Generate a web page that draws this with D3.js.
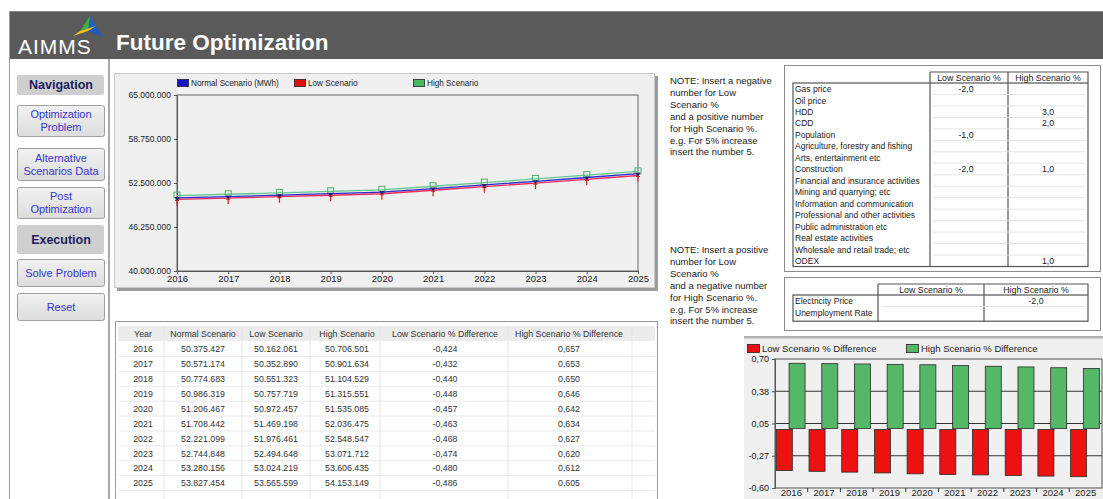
<!DOCTYPE html>
<html>
<head>
<meta charset="utf-8">
<script src="https://cdn.jsdelivr.net/npm/d3@7"></script>
<style>
  html, body { margin: 0; padding: 0; background: #ffffff; }
  svg { display: block; font-family: Arial, "Liberation Sans", sans-serif; }
</style>
</head>
<body>
<script>
// ---- data ----
const years = [2016, 2017, 2018, 2019, 2020, 2021, 2022, 2023, 2024, 2025];
const normalScenario = [50375427, 50571174, 50774683, 50986319, 51206467, 51708442, 52221099, 52744848, 53280156, 53827454];
const lowScenario    = [50162061, 50352890, 50551323, 50757719, 50972457, 51469198, 51976461, 52494648, 53024219, 53565599];
const highScenario   = [50706501, 50901634, 51104529, 51315551, 51535085, 52036475, 52548547, 53071712, 53606435, 54153149];
const lowDiff  = [-0.424, -0.432, -0.440, -0.448, -0.457, -0.463, -0.468, -0.474, -0.480, -0.486];
const highDiff = [0.657, 0.653, 0.650, 0.646, 0.642, 0.634, 0.627, 0.620, 0.612, 0.605];

const lineTicks = [40000000, 46250000, 52500000, 58750000, 65000000];
const barTicks = [-0.6, -0.275, 0.05, 0.375, 0.7];
const barTickLabels = ["-0,60", "-0,27", "0,05", "0,38", "0,70"];

const factorNames = ["Gas price", "Oil price", "HDD", "CDD", "Population",
  "Agriculture, forestry and fishing", "Arts, entertainment etc", "Construction",
  "Financial and insurance activities", "Mining and quarrying; etc",
  "Information and communication", "Professional and other activities",
  "Public administration etc", "Real estate activities",
  "Wholesale and retail trade; etc", "ODEX"];
const factorLow  = [-2, null, null, null, -1, null, null, -2, null, null, null, null, null, null, null, null];
const factorHigh = [null, null, 3, 2, null, null, null, 1, null, null, null, null, null, null, null, 1];

const inverseNames = ["Electricity Price", "Unemployment Rate"];
const inverseLow  = [null, null];
const inverseHigh = [-2, null];

const navItems = [
  { kind: "head", lines: ["Navigation"], y0: 75, y1: 95 },
  { kind: "btn", lines: ["Optimization", "Problem"], y0: 105, y1: 136 },
  { kind: "btn", lines: ["Alternative", "Scenarios Data"], y0: 148, y1: 180 },
  { kind: "btn", lines: ["Post", "Optimization"], y0: 187, y1: 218 },
  { kind: "head", lines: ["Execution"], y0: 225, y1: 254 },
  { kind: "btn", lines: ["Solve Problem"], y0: 259, y1: 286 },
  { kind: "btn", lines: ["Reset"], y0: 293, y1: 320 }
];

const noteTop = ["NOTE: Insert a negative", "number for Low", "Scenario %", "and a positive number",
  "for High Scenario %.", "e.g. For 5% increase", "insert the number 5."];
const noteBottom = ["NOTE: Insert a positive", "number for Low", "Scenario %", "and a negative number",
  "for High Scenario %.", "e.g. For 5% increase", "insert the number 5."];

// European number formatting with a plain hyphen for negatives
const loc = d3.formatLocale({ decimal: ",", thousands: ".", grouping: [3], currency: ["", ""], minus: "-" });
const fmtInt = loc.format(",.0f");
const fmt3 = loc.format(".3f");
const fmt1 = loc.format(".1f");

const FONT = "Arial, 'Liberation Sans', sans-serif";
const W = 1103, H = 499;
const svg = d3.select("body").append("svg").attr("width", W).attr("height", H);

// ---- header ----
svg.append("rect").attr("x", 10).attr("y", 11).attr("width", W - 10).attr("height", 48).attr("fill", "#5a5a5a");
svg.append("line").attr("x1", 10).attr("x2", W).attr("y1", 11.5).attr("y2", 11.5).attr("stroke", "#8a8a8a");
const logo = svg.append("g");
logo.append("path").attr("d", "M90,16 L80,31 L96,26 Z").attr("fill", "#3cb043");
logo.append("path").attr("d", "M90,16 L96,26 L103,37 L88,31 Z").attr("fill", "#1f5fbf");
logo.append("path").attr("d", "M80,31 L96,26 L88,31 L73,36 Z").attr("fill", "#f2c318");
logo.append("text").attr("x", 18).attr("y", 54).attr("fill", "#ffffff")
  .attr("font-size", 21).attr("letter-spacing", 1).text("AIMMS");
svg.append("text").attr("x", 116).attr("y", 50).attr("fill", "#ffffff")
  .attr("font-size", 22.5).attr("font-weight", "bold").text("Future Optimization");

// ---- left navigation ----
svg.append("line").attr("x1", 9.5).attr("x2", 9.5).attr("y1", 11).attr("y2", H).attr("stroke", "#9a9a9a");
svg.append("line").attr("x1", 109).attr("x2", 109).attr("y1", 59).attr("y2", H).attr("stroke", "#a8a8a8").attr("stroke-width", 2);

const defs = svg.append("defs");
const grad = defs.append("linearGradient").attr("id", "btnGrad").attr("x1", 0).attr("x2", 0).attr("y1", 0).attr("y2", 1);
grad.append("stop").attr("offset", "0%").attr("stop-color", "#f2f2f2");
grad.append("stop").attr("offset", "100%").attr("stop-color", "#dcdcdc");

navItems.forEach(it => {
  const g = svg.append("g");
  if (it.kind === "head") {
    g.append("rect").attr("x", 17).attr("y", it.y0).attr("width", 87).attr("height", it.y1 - it.y0)
      .attr("fill", "#cfcfcf").attr("rx", 2);
  } else {
    g.append("rect").attr("x", 17.5).attr("y", it.y0 + 0.5).attr("width", 87).attr("height", it.y1 - it.y0)
      .attr("fill", "url(#btnGrad)").attr("stroke", "#a0a0a0").attr("rx", 2);
  }
  const cy = (it.y0 + it.y1) / 2;
  const n = it.lines.length;
  it.lines.forEach((l, i) => {
    g.append("text").attr("x", 61).attr("y", cy + (i - (n - 1) / 2) * 13 + 4)
      .attr("text-anchor", "middle")
      .attr("font-size", it.kind === "head" ? 12.5 : 11)
      .attr("font-weight", it.kind === "head" ? "bold" : "normal")
      .attr("fill", it.kind === "head" ? "#1d1d5e" : "#3535d0")
      .text(l);
  });
});

// ---- line chart panel ----
const lp = svg.append("g");
lp.append("rect").attr("x", 117).attr("y", 76).attr("width", 541).attr("height", 215).attr("fill", "#9c9c9c");
lp.append("rect").attr("x", 114.5).attr("y", 73.5).attr("width", 540).attr("height", 214)
  .attr("fill", "#f0f0f0").attr("stroke", "#c8c8c8");

const xL = d3.scaleLinear().domain([2016, 2025]).range([177, 638]);
const yL = d3.scaleLinear().domain([40000000, 65000000]).range([271, 95]);

lp.append("rect").attr("x", xL(2016)).attr("y", yL(65000000)).attr("width", xL(2025) - xL(2016))
  .attr("height", yL(40000000) - yL(65000000)).attr("fill", "none").attr("stroke", "#666");

const yAxisL = d3.axisLeft(yL).tickValues(lineTicks).tickSize(3).tickFormat(d => fmtInt(d));
const gyL = lp.append("g").attr("transform", `translate(${xL(2016)},0)`).call(yAxisL);
gyL.select(".domain").attr("stroke", "#555");
gyL.selectAll(".tick line").attr("stroke", "#555");
gyL.selectAll("text").attr("font-size", 8.5).attr("fill", "#222").attr("font-family", FONT);

const xAxisL = d3.axisBottom(xL).tickValues(years).tickSize(3).tickFormat(d3.format("d"));
const gxL = lp.append("g").attr("transform", `translate(0,${yL(40000000)})`).call(xAxisL);
gxL.select(".domain").attr("stroke", "#555");
gxL.selectAll(".tick line").attr("stroke", "#555");
gxL.selectAll("text").attr("font-size", 9.5).attr("fill", "#222").attr("dy", "0.55em").attr("font-family", FONT);

const lineSeries = [
  { name: "High Scenario", values: highScenario, color: "#62c98a", marker: "square" },
  { name: "Low Scenario", values: lowScenario, color: "#ee2a55", marker: "tick" },
  { name: "Normal Scenario (MWh)", values: normalScenario, color: "#2a2ad0", marker: "tri" }
];
const lineGen = d3.line().x(d => xL(d[0])).y(d => yL(d[1]));
lineSeries.forEach(s => {
  const pts = years.map((y, i) => [y, s.values[i]]);
  lp.append("path").datum(pts).attr("d", lineGen).attr("fill", "none")
    .attr("stroke", s.color).attr("stroke-width", 1.3);
  const mk = lp.append("g");
  pts.forEach(p => {
    const cx = xL(p[0]), cy = yL(p[1]);
    if (s.marker === "square") {
      mk.append("rect").attr("x", cx - 3).attr("y", cy - 3.5).attr("width", 6).attr("height", 6)
        .attr("fill", "none").attr("stroke", "#4dae6c").attr("stroke-width", 1);
    } else if (s.marker === "tri") {
      mk.append("path").attr("d", `M${cx - 2.5},${cy - 1} L${cx + 2.5},${cy - 1} L${cx},${cy + 3} Z`)
        .attr("fill", "#23236a");
    } else {
      mk.append("path").attr("d", `M${cx - 2},${cy + 1} H${cx + 2} M${cx},${cy + 1} V${cy + 6}`)
        .attr("stroke", "#d82020").attr("stroke-width", 1.2).attr("fill", "none");
    }
  });
});

// legend
const legL = [
  { label: "Normal Scenario (MWh)", color: "#1515c8", x: 177 },
  { label: "Low Scenario", color: "#e01010", x: 294 },
  { label: "High Scenario", color: "#49b860", x: 413 }
];
legL.forEach(d => {
  lp.append("rect").attr("x", d.x + 0.5).attr("y", 79.5).attr("width", 11).attr("height", 7)
    .attr("fill", d.color).attr("stroke", "#222").attr("stroke-width", 0.8);
  lp.append("text").attr("x", d.x + 14).attr("y", 86).attr("font-size", 8.2).attr("fill", "#222").text(d.label);
});

// ---- notes ----
[[noteTop, 84], [noteBottom, 253]].forEach(([lines, y0]) => {
  lines.forEach((l, i) => {
    svg.append("text").attr("x", 670).attr("y", y0 + i * 11.9).attr("font-size", 9.5)
      .attr("fill", "#222").text(l);
  });
});

// ---- scenario factor tables ----
function drawFactorTable(opt) {
  const g = svg.append("g");
  g.append("rect").attr("x", opt.ox0 + 0.5).attr("y", opt.oy0 + 0.5).attr("width", opt.ox1 - opt.ox0)
    .attr("height", opt.oy1 - opt.oy0).attr("fill", "#ffffff").attr("stroke", "#8c8c8c");
  const rowsTop = opt.rowsTop, rh = opt.rowH, n = opt.names.length;
  const rowsBottom = rowsTop + n * rh + opt.extra;
  g.append("path").attr("d",
    `M${opt.c1},${opt.headTop} H${opt.right} V${rowsTop} M${opt.c1},${opt.headTop} V${rowsTop} M${opt.c2},${opt.headTop} V${rowsTop}`)
    .attr("stroke", "#555").attr("fill", "none").attr("stroke-width", 1.2);
  g.append("rect").attr("x", opt.left).attr("y", rowsTop).attr("width", opt.right - opt.left)
    .attr("height", rowsBottom - rowsTop).attr("fill", "none").attr("stroke", "#555").attr("stroke-width", 1.2);
  g.append("line").attr("x1", opt.c1).attr("x2", opt.c1).attr("y1", rowsTop).attr("y2", rowsBottom).attr("stroke", "#555").attr("stroke-width", 1.2);
  g.append("line").attr("x1", opt.c2).attr("x2", opt.c2).attr("y1", rowsTop).attr("y2", rowsBottom).attr("stroke", "#555").attr("stroke-width", 1.2);
  for (let i = 1; i < n; i++) {
    g.append("line").attr("x1", opt.c1 + 3).attr("x2", opt.right - 3)
      .attr("y1", rowsTop + i * rh).attr("y2", rowsTop + i * rh).attr("stroke", "#e4e4e4");
  }
  const hy = (opt.headTop + rowsTop) / 2 + 3.5;
  g.append("text").attr("x", (opt.c1 + opt.c2) / 2).attr("y", hy).attr("text-anchor", "middle")
    .attr("font-size", 8.8).attr("fill", "#222").text("Low Scenario %");
  g.append("text").attr("x", (opt.c2 + opt.right) / 2).attr("y", hy).attr("text-anchor", "middle")
    .attr("font-size", 8.8).attr("fill", "#222").text("High Scenario %");
  opt.names.forEach((nm, i) => {
    const cy = rowsTop + (i + 0.5) * rh + 3.3;
    g.append("text").attr("x", opt.left + 2).attr("y", cy).attr("font-size", 8.5).attr("fill", "#222").text(nm);
    if (opt.low[i] !== null) g.append("text").attr("x", (opt.c1 + opt.c2) / 2 - 3).attr("y", cy)
      .attr("text-anchor", "middle").attr("font-size", 8.8).attr("fill", "#222").text(fmt1(opt.low[i]));
    if (opt.high[i] !== null) g.append("text").attr("x", (opt.c2 + opt.right) / 2).attr("y", cy)
      .attr("text-anchor", "middle").attr("font-size", 8.8).attr("fill", "#222").text(fmt1(opt.high[i]));
  });
}
drawFactorTable({ ox0: 784, oy0: 65, ox1: 1100, oy1: 271, left: 793, right: 1088, c1: 930, c2: 1008,
  headTop: 72, rowsTop: 83, rowH: 11.47, extra: 0, names: factorNames, low: factorLow, high: factorHigh });
drawFactorTable({ ox0: 784, oy0: 277, ox1: 1100, oy1: 330, left: 793, right: 1088, c1: 878, c2: 984,
  headTop: 284, rowsTop: 295, rowH: 11.6, extra: 3, names: inverseNames, low: inverseLow, high: inverseHigh });

// ---- results table ----
const tg = svg.append("g");
tg.append("rect").attr("x", 115.5).attr("y", 321.5).attr("width", 542).attr("height", 190)
  .attr("fill", "#ffffff").attr("stroke", "#9a9a9a");
tg.append("rect").attr("x", 118).attr("y", 326).attr("width", 537).attr("height", 15).attr("fill", "#ececec");
const colCenters = [143, 203, 276, 347, 445, 569];
const colLines = [164, 242, 310, 380, 508, 632];
const colHeads = ["Year", "Normal Scenario", "Low Scenario", "High Scenario", "Low Scenario % Difference", "High Scenario % Difference"];
colLines.forEach(x => tg.append("line").attr("x1", x).attr("x2", x).attr("y1", 326).attr("y2", H)
  .attr("stroke", "#e6e6e6"));
colHeads.forEach((h, i) => tg.append("text").attr("x", colCenters[i]).attr("y", 337)
  .attr("text-anchor", "middle").attr("font-size", 8.8).attr("fill", "#333").text(h));
const rowY = d3.scaleLinear().domain([0, 9]).range([349, 483]);
years.forEach((yr, i) => {
  tg.append("line").attr("x1", 118).attr("x2", 655).attr("y1", rowY(i) + 7.5).attr("y2", rowY(i) + 7.5)
    .attr("stroke", "#e9e9e9");
  const cells = [String(yr), fmtInt(normalScenario[i]), fmtInt(lowScenario[i]), fmtInt(highScenario[i]),
    fmt3(lowDiff[i]), fmt3(highDiff[i])];
  cells.forEach((c, j) => tg.append("text").attr("x", colCenters[j]).attr("y", rowY(i) + 3.3)
    .attr("text-anchor", "middle").attr("font-size", 8.8).attr("fill", "#333").text(c));
});

// ---- bar chart ----
const bg = svg.append("g");
bg.append("rect").attr("x", 744).attr("y", 338).attr("width", W - 744).attr("height", H - 338).attr("fill", "#f0f0f0");
bg.append("rect").attr("x", 744).attr("y", 336).attr("width", W - 744).attr("height", 2.5).attr("fill", "#b4b4b4");

const xB = d3.scaleBand().domain(years).range([775, 1102]);
const yB = d3.scaleLinear().domain([-0.6, 0.7]).range([488, 359]);
const bw = xB.bandwidth();

barTicks.slice(1, -1).forEach(t => bg.append("line").attr("x1", 775).attr("x2", 1102)
  .attr("y1", yB(t)).attr("y2", yB(t)).attr("stroke", "#333"));

years.forEach((yr, i) => {
  const x0 = xB(yr);
  bg.append("rect").attr("x", x0 + bw * 0.43).attr("y", yB(highDiff[i])).attr("width", bw * 0.49)
    .attr("height", yB(0) - yB(highDiff[i])).attr("fill", "#55b866").attr("stroke", "#2b2b2b").attr("stroke-width", 0.8);
  bg.append("rect").attr("x", x0 + bw * 0.04).attr("y", yB(0) + 1).attr("width", bw * 0.49)
    .attr("height", yB(lowDiff[i]) - yB(0) - 1).attr("fill", "#ee1111").attr("stroke", "#2b2b2b").attr("stroke-width", 0.8);
});

bg.append("rect").attr("x", 775).attr("y", yB(0.7)).attr("width", 1102 - 775).attr("height", yB(-0.6) - yB(0.7))
  .attr("fill", "none").attr("stroke", "#555");

const yAxisB = d3.axisLeft(yB).tickValues(barTicks).tickSize(3).tickFormat((d, i) => barTickLabels[i]);
const gyB = bg.append("g").attr("transform", "translate(775,0)").call(yAxisB);
gyB.select(".domain").attr("stroke", "#555");
gyB.selectAll(".tick line").attr("stroke", "#555");
gyB.selectAll("text").attr("font-size", 9).attr("fill", "#222").attr("font-family", FONT);

const xAxisB = d3.axisBottom(xB).tickSize(0).tickFormat(d3.format("d"));
const gxB = bg.append("g").attr("transform", `translate(0,${yB(-0.6)})`).call(xAxisB);
gxB.select(".domain").remove();
gxB.selectAll("text").attr("font-size", 9.5).attr("fill", "#222").attr("dy", "0.55em").attr("font-family", FONT);
years.slice(1).forEach(yr => bg.append("line").attr("x1", xB(yr)).attr("x2", xB(yr))
  .attr("y1", yB(-0.6)).attr("y2", yB(-0.6) + 4).attr("stroke", "#333"));

const legB = [
  { label: "Low Scenario % Difference", color: "#e81010", x: 747 },
  { label: "High Scenario % Difference", color: "#55b866", x: 906 }
];
legB.forEach(d => {
  bg.append("rect").attr("x", d.x + 0.5).attr("y", 344.5).attr("width", 12).attr("height", 8)
    .attr("fill", d.color).attr("stroke", "#222").attr("stroke-width", 0.8);
  bg.append("text").attr("x", d.x + 15).attr("y", 352).attr("font-size", 9.5).attr("fill", "#222").text(d.label);
});
</script>
</body>
</html>
